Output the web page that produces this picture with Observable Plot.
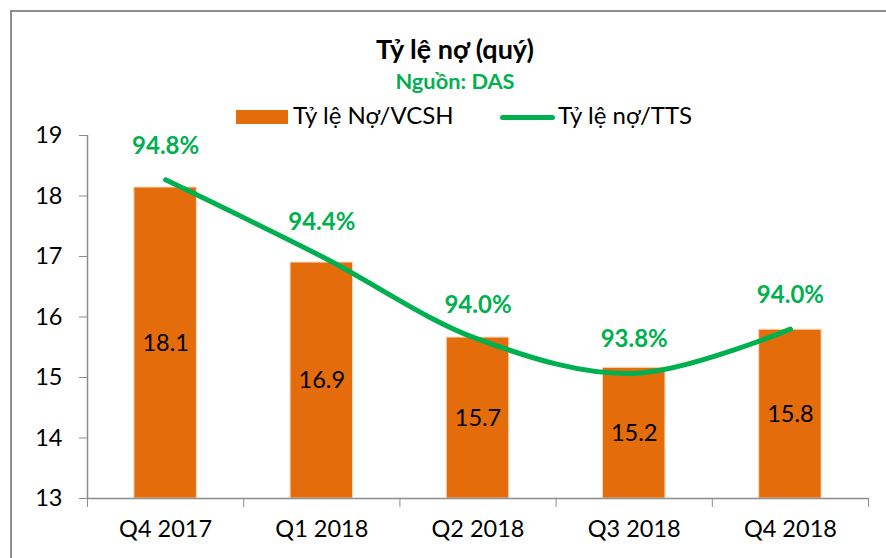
<!DOCTYPE html>
<html>
<head>
<meta charset="utf-8">
<script src="https://cdn.jsdelivr.net/npm/d3@7"></script>
<script src="https://cdn.jsdelivr.net/npm/@observablehq/plot@0.6"></script>
<style>
  html, body { margin: 0; padding: 0; background: #fff; }
  #wrap { position: relative; width: 886px; height: 558px; overflow: hidden; font-family: Lato, "Open Sans", sans-serif; color: #000; }
  #frame { position: absolute; left: 10px; top: 10px; width: 1000px; height: 1000px; border: 2px solid #8e8e8e; box-sizing: border-box; }
  #header { position: relative; height: 125px; }
  .c { position: absolute; white-space: nowrap; transform: translateX(-50%); }
  #title { left: 455px; top: 32px; font-size: 27px; font-weight: bold; }
  #subtitle { left: 455px; top: 67px; font-size: 21.8px; font-weight: bold; color: #00B050; }
  .lg { position: absolute; white-space: nowrap; font-size: 24px; top: 100px; }
  #sw1 { position: absolute; left: 236px; top: 110px; width: 52px; height: 14px; background: #E46C0A; }
  #sw2 { position: absolute; left: 500px; top: 115px; width: 55px; height: 5px; background: #00B050; border-radius: 3px; }
  #chart { position: relative; }
</style>
</head>
<body>
<div id="wrap">
  <div id="frame"></div>
  <div id="header">
    <div id="title" class="c">Tỷ lệ nợ (quý)</div>
    <div id="subtitle" class="c">Nguồn: DAS</div>
    <div id="sw1"></div><div class="lg" style="left:293px">Tỷ lệ Nợ/VCSH</div>
    <div id="sw2"></div><div class="lg" style="left:558px">Tỷ lệ nợ/TTS</div>
  </div>
  <div id="chart"></div>
</div>
<script>
const categories = ["Q4 2017", "Q1 2018", "Q2 2018", "Q3 2018", "Q4 2018"];
const debtToEquity = [18.14, 16.90, 15.66, 15.16, 15.79];   // Tỷ lệ Nợ/VCSH (primary axis)
const debtToAssets = [94.78, 94.40, 93.99, 93.82, 94.04];   // Tỷ lệ nợ/TTS, % (secondary axis)
const yTicks = [13, 14, 15, 16, 17, 18, 19];
const yDomain = [13, 19];
const secondaryDomain = [93.2, 95.0];

const toPrimary = p => yDomain[0] + (p - secondaryDomain[0]) * (yDomain[1] - yDomain[0]) / (secondaryDomain[1] - secondaryDomain[0]);

const data = categories.map((c, i) => ({ i, c, v: debtToEquity[i], p: debtToAssets[i] }));

const FONT = "Lato, 'Open Sans', sans-serif";
const GRAY = "#8c8c8c";

const chart = Plot.plot({
  width: 886,
  height: 433,
  marginLeft: 87,
  marginRight: 18,
  marginTop: 10,
  marginBottom: 60,
  style: { fontFamily: FONT, color: "#000", background: "transparent", overflow: "visible" },
  x: { type: "linear", domain: [0, categories.length] },
  y: { domain: yDomain },
  marks: [
    Plot.rectY(data, { x1: d => d.i + 0.3, x2: d => d.i + 0.7, y1: yDomain[0], y2: "v", fill: "#E46C0A", stroke: "#f7d9bd", strokeWidth: 1 }),
    Plot.ruleY([yDomain[0]], { stroke: GRAY, strokeWidth: 1.5 }),
    Plot.ruleX([0], { stroke: GRAY, strokeWidth: 1.5 }),
    Plot.axisY({ ticks: yTicks, tickSize: 8, tickPadding: 17, fontSize: 23.5, stroke: GRAY, fill: "#000", label: null, tickFormat: d => String(d) }),
    Plot.axisX({ ticks: d3.range(categories.length + 1), tickSize: 9, stroke: GRAY, tickFormat: () => "", label: null }),
    Plot.axisX({ ticks: d3.range(categories.length).map(i => i + 0.5), tickSize: 0, tickPadding: 22, fontSize: 23.5, fill: "#000", tickFormat: d => categories[Math.floor(d)], label: null }),
    Plot.text(data, { x: d => d.i + 0.5, y: d => (yDomain[0] + d.v) / 2, text: d => d.v.toFixed(1), fontSize: 23.5, fill: "#000" }),
    Plot.line(data, { x: d => d.i + 0.5, y: d => toPrimary(d.p), curve: "catmull-rom", stroke: "#00B050", strokeWidth: 5, strokeLinecap: "round" }),
    Plot.text(data, { x: d => d.i + 0.5, y: d => toPrimary(d.p), dy: -34, text: d => d.p.toFixed(1) + "%", fontSize: 24, fontWeight: "bold", fill: "#00B050" })
  ]
});
document.getElementById("chart").appendChild(chart);
</script>
</body>
</html>
